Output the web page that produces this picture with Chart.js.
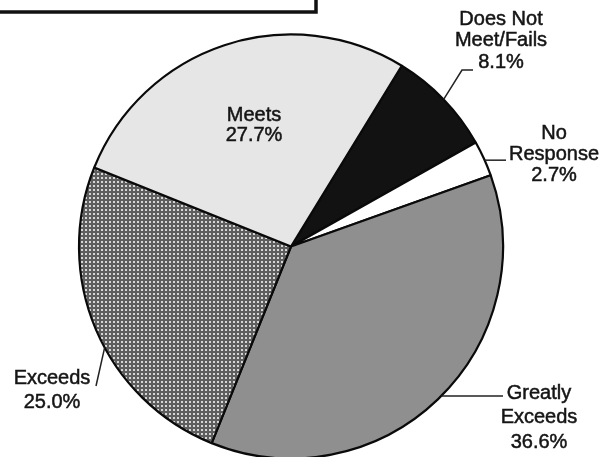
<!DOCTYPE html>
<html>
<head>
<meta charset="utf-8">
<script src="https://cdn.jsdelivr.net/npm/chart.js@4/dist/chart.umd.min.js"></script>
<style>
  html, body { margin: 0; padding: 0; background: #fff; overflow: hidden; }
  #wrap { width: 603px; height: 457px; position: relative; }
</style>
</head>
<body>
<div id="wrap"><canvas id="pieChart" width="603" height="457"></canvas></div>
<script>
// slice order runs clockwise from the top-right
const categories = ['Does Not Meet/Fails', 'No Response', 'Greatly Exceeds', 'Exceeds', 'Meets'];
const percents = [8.1, 2.7, 36.6, 25.0, 27.7];
const nameLines = [['Does Not', 'Meet/Fails'], ['No', 'Response'], ['Greatly', 'Exceeds'], ['Exceeds'], ['Meets']];

// dotted fill used for the "Exceeds" wedge
function dotPattern() {
  const c = document.createElement('canvas');
  c.width = 4; c.height = 4;
  const g = c.getContext('2d');
  g.fillStyle = '#5e5e5e';
  g.fillRect(0, 0, 4, 4);
  g.fillStyle = '#d6d6d6';
  g.fillRect(1, 1, 2, 2);
  return g.createPattern(c, 'repeat');
}

const fills = ['#121212', '#ffffff', '#8f8f8f', dotPattern(), '#e6e6e6'];

// where each label sits and how its leader line runs
const labelLayout = [
  { x: 501, y: 19, step: 21.5, at: 0.5,  path: [[462, 70], [473, 70]] },
  { x: 554, y: 133, step: 21, at: 0.55, flatTo: 506 },
  { x: 539, y: 393, step: 24.5, at: 0.49, flatTo: 503 },
  { x: 52,  y: 378, step: 24, at: 0.44, path: [[96, 386]] },
  { x: 254, y: 115, step: 20 }
];

const sliceLabels = {
  id: 'sliceLabels',
  afterDatasetsDraw(chart) {
    const ctx = chart.ctx;
    const meta = chart.getDatasetMeta(0);
    ctx.save();

    // heading box, mostly above the top edge
    ctx.strokeStyle = '#111';
    ctx.lineWidth = 3.5;
    ctx.strokeRect(-10, -30, 326, 42);

    ctx.font = '20px "Liberation Sans", Arial, sans-serif';
    ctx.fillStyle = '#151515';
    ctx.textAlign = 'center';
    ctx.textBaseline = 'middle';

    labelLayout.forEach((l, i) => {
      const lines = nameLines[i].concat([percents[i].toFixed(1) + '%']);
      ctx.lineWidth = 0.5;
      ctx.strokeStyle = '#151515';
      lines.forEach((t, k) => {
        ctx.fillText(t, l.x, l.y + k * l.step);
        ctx.strokeText(t, l.x, l.y + k * l.step);
      });
      if (l.at === undefined) return;
      const arc = meta.data[i];
      const p = arc.getProps(['x', 'y', 'startAngle', 'endAngle', 'outerRadius'], true);
      const a = p.startAngle + l.at * (p.endAngle - p.startAngle);
      const sx = p.x + p.outerRadius * Math.cos(a);
      const sy = p.y + p.outerRadius * Math.sin(a);
      ctx.lineWidth = 1.5;
      ctx.strokeStyle = '#222';
      ctx.beginPath();
      ctx.moveTo(sx, sy);
      if (l.flatTo !== undefined) {
        ctx.lineTo(l.flatTo, sy);
      } else {
        l.path.forEach(pt => ctx.lineTo(pt[0], pt[1]));
      }
      ctx.stroke();
    });
    ctx.restore();
  }
};

new Chart(document.getElementById('pieChart'), {
  type: 'pie',
  data: {
    labels: categories,
    datasets: [{
      data: percents,
      backgroundColor: fills,
      borderColor: '#0a0a0a',
      borderWidth: 2.2,
      clip: false
    }]
  },
  options: {
    responsive: false,
    animation: false,
    rotation: 31.5,
    radius: 212,
    layout: { padding: { top: 36, bottom: 0, left: 0, right: 21 } },
    plugins: {
      legend: { display: false },
      tooltip: { enabled: false }
    }
  },
  plugins: [sliceLabels]
});
</script>
</body>
</html>
